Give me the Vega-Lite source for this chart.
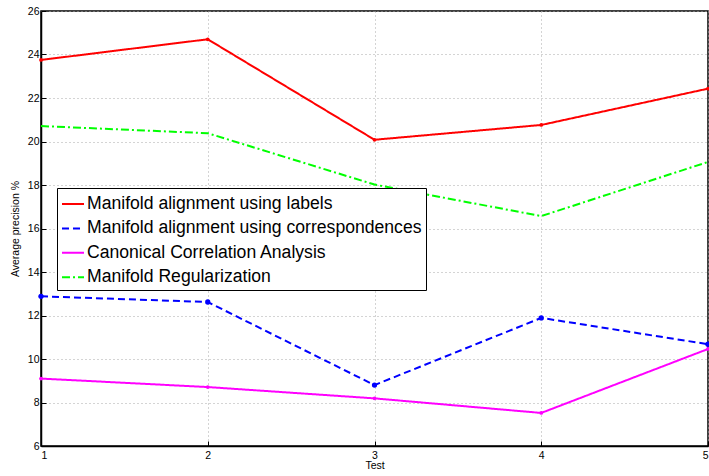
{
  "$schema": "https://vega.github.io/schema/vega-lite/v6.json",
  "width": 667,
  "height": 435,
  "autosize": "none",
  "padding": {"left": 41, "top": 11, "right": 1, "bottom": 30},
  "background": "white",
  "config": {
    "font": "Liberation Sans",
    "view": {"stroke": "black", "strokeWidth": 1.5},
    "axis": {
      "domainColor": "black",
      "domainWidth": 1.5,
      "tickColor": "black",
      "tickSize": -5,
      "tickWidth": 1,
      "labelColor": "black",
      "labelFontSize": 10.5,
      "labelFont": "Liberation Sans",
      "titleFont": "Liberation Sans",
      "titleFontSize": 10.5,
      "titleFontWeight": "normal",
      "titleColor": "black",
      "gridColor": "#a8a8a8",
      "gridDash": [1, 3],
      "gridWidth": 1
    },
    "legend": {
      "strokeColor": "black",
      "strokeWidth": 1,
      "fillColor": "white",
      "padding": 4,
      "labelFont": "Liberation Sans",
      "labelFontSize": 17.6,
      "labelColor": "black",
      "labelLimit": 500
    }
  },
  "data": {
    "values": [
      {"test": 1, "method": "Manifold alignment using labels", "precision": 23.75},
      {"test": 2, "method": "Manifold alignment using labels", "precision": 24.7},
      {"test": 3, "method": "Manifold alignment using labels", "precision": 20.08},
      {"test": 4, "method": "Manifold alignment using labels", "precision": 20.76},
      {"test": 5, "method": "Manifold alignment using labels", "precision": 22.43},
      {"test": 1, "method": "Manifold alignment using correspondences", "precision": 12.88},
      {"test": 2, "method": "Manifold alignment using correspondences", "precision": 12.62},
      {"test": 3, "method": "Manifold alignment using correspondences", "precision": 8.8},
      {"test": 4, "method": "Manifold alignment using correspondences", "precision": 11.89},
      {"test": 5, "method": "Manifold alignment using correspondences", "precision": 10.68},
      {"test": 1, "method": "Canonical Correlation Analysis", "precision": 9.1},
      {"test": 2, "method": "Canonical Correlation Analysis", "precision": 8.71},
      {"test": 3, "method": "Canonical Correlation Analysis", "precision": 8.19},
      {"test": 4, "method": "Canonical Correlation Analysis", "precision": 7.52},
      {"test": 5, "method": "Canonical Correlation Analysis", "precision": 10.46},
      {"test": 1, "method": "Manifold Regularization", "precision": 20.71},
      {"test": 2, "method": "Manifold Regularization", "precision": 20.38},
      {"test": 3, "method": "Manifold Regularization", "precision": 18.02},
      {"test": 4, "method": "Manifold Regularization", "precision": 16.57},
      {"test": 5, "method": "Manifold Regularization", "precision": 19.06}
    ]
  },
  "encoding": {
    "x": {
      "field": "test",
      "type": "quantitative",
      "scale": {"domain": [1, 5], "nice": false, "zero": false},
      "axis": {"values": [1, 2, 3, 4, 5], "title": "Test", "labelPadding": 9, "titlePadding": 0, "grid": true}
    },
    "y": {
      "field": "precision",
      "type": "quantitative",
      "scale": {"domain": [6, 26], "nice": false, "zero": false},
      "axis": {"values": [6, 8, 10, 12, 14, 16, 18, 20, 22, 24, 26], "title": "Average precision %", "labelPadding": 7, "titlePadding": 7, "grid": true}
    },
    "color": {
      "field": "method",
      "type": "nominal",
      "scale": {
        "domain": ["Manifold alignment using labels", "Manifold alignment using correspondences", "Canonical Correlation Analysis", "Manifold Regularization"],
        "range": ["#ff0000", "#0000ff", "#ff00ff", "#00ff00"]
      },
      "legend": {"title": null, "orient": "none", "legendX": 16, "legendY": 177, "symbolType": "stroke", "symbolSize": 484, "symbolStrokeWidth": 2, "rowPadding": 3.4, "labelOffset": 2}
    }
  },
  "layer": [
    {
      "mark": {"type": "line", "strokeWidth": 2},
      "encoding": {
        "strokeDash": {
          "field": "method",
          "type": "nominal",
          "scale": {
            "domain": ["Manifold alignment using labels", "Manifold alignment using correspondences", "Canonical Correlation Analysis", "Manifold Regularization"],
            "range": [[1, 0], [7, 4], [1, 0], [8, 3, 2, 3]]
          },
          "legend": {"title": null, "orient": "none", "legendX": 16, "legendY": 177, "symbolType": "stroke", "symbolSize": 484, "symbolStrokeWidth": 2, "rowPadding": 3.4, "labelOffset": 2}
        }
      }
    },
    {
      "transform": [{"filter": "datum.method === 'Manifold alignment using correspondences'"}],
      "mark": {"type": "point", "shape": "circle", "filled": true, "size": 28, "opacity": 1},
      "encoding": {"color": {"field": "method", "type": "nominal", "legend": null}}
    },
    {
      "transform": [{"filter": "datum.method === 'Manifold alignment using labels' || datum.method === 'Canonical Correlation Analysis'"}],
      "mark": {"type": "point", "shape": "circle", "filled": true, "size": 14, "opacity": 1},
      "encoding": {"color": {"field": "method", "type": "nominal", "legend": null}}
    }
  ]
}
